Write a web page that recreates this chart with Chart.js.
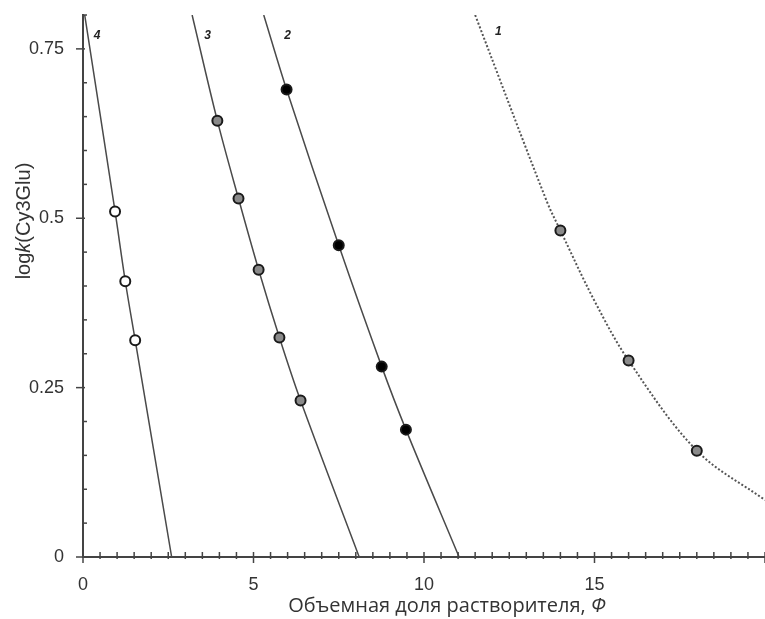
<!DOCTYPE html>
<html lang="ru">
<head>
<meta charset="UTF-8">
<title>logk(Cy3Glu)</title>
<script src="https://cdn.jsdelivr.net/npm/chart.js"></script>
<style>
  body { margin: 0; background: #fff; }
  #wrap { width: 765px; height: 619px; }
</style>
</head>
<body>
<div id="wrap"><canvas id="chart" width="765" height="619"></canvas></div>
<script>
// измеренные точки (Φ, logk)
const pts1 = [[14.0, 0.482], [16.0, 0.29], [18.0, 0.157]];
const pts2 = [[5.97, 0.69], [7.5, 0.46], [8.76, 0.281], [9.47, 0.188]];
const pts3 = [[3.94, 0.644], [4.56, 0.529], [5.15, 0.424], [5.76, 0.324], [6.38, 0.231]];
const pts4 = [[0.94, 0.51], [1.24, 0.407], [1.53, 0.32]];

// аппроксимирующие кривые
const fit1 = [[11.5, 0.8], [13.6, 0.525], [14.0, 0.482], [15.0, 0.378], [16.0, 0.29], [18.0, 0.157], [20.0, 0.084]];
const fit2 = [[5.3, 0.8], [5.97, 0.69], [7.5, 0.46], [8.76, 0.281], [9.47, 0.188], [11.03, 0]];
const fit3 = [[3.2, 0.8], [3.94, 0.644], [4.56, 0.529], [5.15, 0.424], [5.76, 0.324], [6.38, 0.231], [8.1, 0]];
const fit4 = [[0.05, 0.8], [0.94, 0.51], [1.24, 0.407], [1.53, 0.32], [2.6, 0]];

// номера кривых
const curveLabels = ['1', '2', '3', '4'];
const curveLabelPos = [[12.18, 0.775], [6.0, 0.77], [3.65, 0.77], [0.41, 0.77]];

const xTicks = [0, 5, 10, 15];
const yTicks = [0, 0.25, 0.5, 0.75];

const toXY = arr => arr.map(p => ({ x: p[0], y: p[1] }));

function fitSet(data, dashed) {
    return {
        type: 'line',
        data: toXY(data),
        borderColor: dashed ? '#555' : '#4a4a4a',
        borderWidth: dashed ? 2 : 1.5,
        borderDash: dashed ? [2, 2] : [],
        pointRadius: 0,
        tension: 0.35,
        fill: false,
        order: 2
    };
}

function pointSet(data, fill) {
    return {
        type: 'scatter',
        data: toXY(data),
        backgroundColor: fill,
        borderColor: '#1a1a1a',
        borderWidth: 2,
        pointRadius: 5,
        order: 1
    };
}

// свои деления осей и подписи
const axisDecor = {
    id: 'axisDecor',
    afterDraw(chart) {
        const ctx = chart.ctx;
        const xs = chart.scales.x, ys = chart.scales.y;
        const a = chart.chartArea;
        ctx.save();
        ctx.strokeStyle = '#444';
        ctx.lineWidth = 1.5;
        for (let i = 0; i <= 16; i++) {
            const py = ys.getPixelForValue(i * 0.05);
            const major = i % 5 === 0;
            ctx.beginPath();
            ctx.moveTo(a.left - (major ? 7 : 1), py);
            ctx.lineTo(a.left + (major ? 2 : 4), py);
            ctx.stroke();
        }
        for (let i = 0; i <= 40; i++) {
            const px = xs.getPixelForValue(i * 0.5);
            const major = i % 10 === 0;
            ctx.beginPath();
            ctx.moveTo(px, a.bottom - 5);
            ctx.lineTo(px, a.bottom + (major ? 6 : 2));
            ctx.stroke();
        }

        // номера кривых
        ctx.fillStyle = '#222';
        ctx.font = 'bold italic 12px "Liberation Sans"';
        ctx.textAlign = 'center';
        ctx.textBaseline = 'middle';
        curveLabels.forEach((t, i) => {
            ctx.fillText(t, xs.getPixelForValue(curveLabelPos[i][0]), ys.getPixelForValue(curveLabelPos[i][1]));
        });

        // подпись оси X
        ctx.fillStyle = '#333';
        ctx.textBaseline = 'alphabetic';
        ctx.textAlign = 'left';
        const partA = 'Объемная доля растворителя, ';
        ctx.font = '20px "Open Sans"';
        const wA = ctx.measureText(partA).width;
        ctx.font = 'italic 20px "Open Sans"';
        const wB = ctx.measureText('Φ').width;
        let x0 = 447 - (wA + wB) / 2;
        ctx.font = '20px "Open Sans"';
        ctx.fillText(partA, x0, 612);
        ctx.font = 'italic 20px "Open Sans"';
        ctx.fillText('Φ', x0 + wA, 612);

        // подпись оси Y
        ctx.translate(30, 221);
        ctx.rotate(-Math.PI / 2);
        const parts = [['log', ''], ['k', 'italic '], ['(Cy3Glu)', '']];
        let total = 0;
        parts.forEach(p => { ctx.font = p[1] + '20px "Liberation Sans"'; total += ctx.measureText(p[0]).width; });
        let cx = -total / 2;
        parts.forEach(p => {
            ctx.font = p[1] + '20px "Liberation Sans"';
            ctx.fillText(p[0], cx, 0);
            cx += ctx.measureText(p[0]).width;
        });
        ctx.restore();
    }
};

new Chart(document.getElementById('chart').getContext('2d'), {
    data: {
        datasets: [
            fitSet(fit1, true), fitSet(fit2, false), fitSet(fit3, false), fitSet(fit4, false),
            pointSet(pts1, '#8a8a8a'), pointSet(pts2, '#000'), pointSet(pts3, '#8a8a8a'), pointSet(pts4, '#fff')
        ]
    },
    options: {
        responsive: false,
        animation: false,
        layout: { autoPadding: false, padding: { top: 15, right: 0, left: 0, bottom: 0 } },
        plugins: { legend: { display: false }, tooltip: { enabled: false } },
        scales: {
            x: {
                type: 'linear',
                min: 0, max: 20,
                afterFit: s => { s.height = 62; s.paddingLeft = 0; s.paddingRight = 0; },
                afterBuildTicks: s => { s.ticks = xTicks.map(v => ({ value: v })); },
                grid: { display: false, drawTicks: false },
                border: { color: '#444', width: 2 },
                ticks: { padding: 17, color: '#333', font: { family: 'Liberation Sans', size: 18 }, callback: v => String(v) }
            },
            y: {
                type: 'linear',
                min: 0, max: 0.8,
                afterFit: s => { s.width = 83; s.paddingTop = 0; s.paddingBottom = 0; },
                afterBuildTicks: s => { s.ticks = yTicks.map(v => ({ value: v })); },
                grid: { display: false, drawTicks: false },
                border: { color: '#444', width: 2 },
                ticks: { padding: 19, color: '#333', font: { family: 'Liberation Sans', size: 18 }, callback: v => String(v) }
            }
        }
    },
    plugins: [axisDecor]
});
</script>
</body>
</html>
